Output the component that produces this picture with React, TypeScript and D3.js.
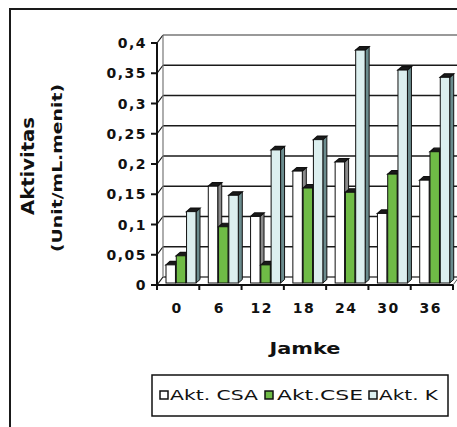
import React from "react";
import * as d3 from "d3";

// Sampling times (jam ke-) and measured enzyme activities (Unit/mL.menit)
const categories: string[] = ["0", "6", "12", "18", "24", "30", "36"];
const seriesNames: string[] = ["Akt. CSA", "Akt.CSE", "Akt. K"];
const aktCSA: number[] = [0.03, 0.16, 0.11, 0.185, 0.2, 0.115, 0.17];
const aktCSE: number[] = [0.045, 0.093, 0.03, 0.157, 0.15, 0.18, 0.217];
const aktK: number[] = [0.118, 0.145, 0.22, 0.237, 0.385, 0.352, 0.34];
const yTicks: number[] = [0, 0.05, 0.1, 0.15, 0.2, 0.25, 0.3, 0.35, 0.4];
const yTickLabels: string[] = ["0", "0,05", "0,1", "0,15", "0,2", "0,25", "0,3", "0,35", "0,4"];

const W = 457;
const H = 427;

const fronts = ["#ffffff", "#6fbb46", "#dcefef"];
const sides = ["#8a8a8a", "#3d6e26", "#6b8c8e"];

export default function App() {
  const x0 = 157;
  const x1 = 453;
  const y = d3.scaleLinear().domain([0, 0.4]).range([285, 43]);
  const x = d3.scaleBand<string>().domain(categories).range([x0, x1]).padding(0);
  const inner = d3
    .scaleBand<string>()
    .domain(seriesNames)
    .range([7.5, 37.5])
    .paddingInner(0.08);

  // depth of the plot box (back wall offset) and of each column
  const wallDx = 6;
  const wallDy = -8;
  const barOx = 1.5;
  const barOy = -2;
  const depDx = 4;
  const depDy = -3.5;

  const data = [aktCSA, aktCSE, aktK];
  const font = "'DejaVu Sans', Arial, sans-serif";

  const bars: React.ReactNode[] = [];
  categories.forEach((c, i) => {
    data.forEach((vals, s) => {
      const v = vals[i];
      const bx = (x(c) as number) + (inner(seriesNames[s]) as number) + barOx;
      const bw = inner.bandwidth();
      const top = y(v) + barOy;
      const bot = y(0) + barOy;
      const side = `${bx + bw},${top} ${bx + bw + depDx},${top + depDy} ${bx + bw + depDx},${bot + depDy} ${bx + bw},${bot}`;
      const cap = `${bx},${top} ${bx + depDx},${top + depDy} ${bx + bw + depDx},${top + depDy} ${bx + bw},${top}`;
      bars.push(
        <g key={`${c}-${s}`}>
          <polygon points={side} fill={sides[s]} stroke="#111" strokeWidth={1} />
          <polygon points={cap} fill="#1a1a1a" stroke="#111" strokeWidth={1.2} />
          <rect x={bx} y={top} width={bw} height={bot - top} fill={fronts[s]} stroke="#111" strokeWidth={1} />
        </g>
      );
    });
  });

  const legendItems = [
    { mx: 160, tx: 170, len: 88 },
    { mx: 265, tx: 277, len: 86 },
    { mx: 369, tx: 379, len: 59 },
  ];

  return (
    <svg
      width={W}
      height={H}
      style={{ position: "absolute", left: 0, top: 0, background: "#fff" }}
    >
      {/* outer chart frame */}
      <path d={`M 10 ${H + 2} L 10 9 L ${W + 2} 9`} fill="none" stroke="#1a1a1a" strokeWidth={2} />

      {/* back wall gridlines */}
      {yTicks.map((t) => (
        <line
          key={`g${t}`}
          x1={x0 + wallDx}
          x2={x1 + wallDx}
          y1={y(t) + wallDy}
          y2={y(t) + wallDy}
          stroke={t === 0.4 ? "#777" : "#1a1a1a"}
          strokeWidth={1.7}
        />
      ))}
      {/* side wall gridlines */}
      {yTicks.map((t) => (
        <line
          key={`s${t}`}
          x1={x0}
          x2={x0 + wallDx}
          y1={y(t)}
          y2={y(t) + wallDy}
          stroke="#1a1a1a"
          strokeWidth={1.2}
        />
      ))}
      <line x1={x0 + wallDx} x2={x0 + wallDx} y1={y(0.4) + wallDy} y2={y(0) + wallDy} stroke="#777" strokeWidth={1.2} />

      {/* floor */}
      <line x1={x0 + wallDx} x2={x1 + wallDx} y1={y(0) + wallDy} y2={y(0) + wallDy} stroke="#999" strokeWidth={1} />
      <line x1={x1} x2={x1 + wallDx} y1={y(0)} y2={y(0) + wallDy} stroke="#555" strokeWidth={1} />

      {bars}

      {/* value axis */}
      <line x1={x0} x2={x0} y1={y(0.4)} y2={y(0)} stroke="#111" strokeWidth={2} />
      {yTicks.map((t, i) => (
        <g key={`t${t}`}>
          <line x1={x0 - 6} x2={x0} y1={y(t)} y2={y(t)} stroke="#111" strokeWidth={2} />
          <text
            x={147}
            y={y(t) + 1}
            textAnchor="end"
            dominantBaseline="middle"
            fontFamily={font}
            fontWeight="bold"
            fontSize={14}
            letterSpacing={1.5}
            fill="#111"
          >
            {yTickLabels[i]}
          </text>
        </g>
      ))}

      {/* category axis */}
      <line x1={x0} x2={x1} y1={y(0)} y2={y(0)} stroke="#111" strokeWidth={2} />
      {d3.range(categories.length + 1).map((k) => {
        const tx = x0 + k * x.step();
        return <line key={`xt${k}`} x1={tx} x2={tx} y1={y(0)} y2={y(0) + 5} stroke="#111" strokeWidth={2} />;
      })}
      {categories.map((c) => (
        <text
          key={`xl${c}`}
          x={(x(c) as number) + x.bandwidth() / 2 - 1}
          y={309}
          textAnchor="middle"
          dominantBaseline="middle"
          fontFamily={font}
          fontWeight="bold"
          fontSize={14}
          letterSpacing={1.5}
          fill="#111"
        >
          {c}
        </text>
      ))}

      {/* axis titles */}
      <text
        x={305}
        y={349}
        textAnchor="middle"
        dominantBaseline="middle"
        fontFamily={font}
        fontWeight="bold"
        fontSize={16}
        textLength={71}
        lengthAdjust="spacingAndGlyphs"
        fill="#111"
      >
        Jamke
      </text>
      <text
        transform="translate(29,166) rotate(-90)"
        textAnchor="middle"
        dominantBaseline="middle"
        fontFamily={font}
        fontWeight="bold"
        fontSize={17}
        textLength={98}
        lengthAdjust="spacingAndGlyphs"
        fill="#111"
      >
        Aktivitas
      </text>
      <text
        transform="translate(58,168) rotate(-90)"
        textAnchor="middle"
        dominantBaseline="middle"
        fontFamily={font}
        fontWeight="bold"
        fontSize={14}
        textLength={168}
        lengthAdjust="spacingAndGlyphs"
        fill="#111"
      >
        (Unit/mL.menit)
      </text>

      {/* legend */}
      <rect x={152} y={375} width={296} height={41} fill="#fff" stroke="#111" strokeWidth={1.5} />
      {legendItems.map((it, s) => (
        <g key={`lg${s}`}>
          <rect x={it.mx} y={391} width={8} height={8} fill={fronts[s]} stroke="#111" strokeWidth={1.5} />
          <text
            x={it.tx}
            y={396}
            dominantBaseline="middle"
            fontFamily={font}
            fontSize={14}
            textLength={it.len}
            lengthAdjust="spacingAndGlyphs"
            fill="#111"
          >
            {seriesNames[s]}
          </text>
        </g>
      ))}
    </svg>
  );
}
